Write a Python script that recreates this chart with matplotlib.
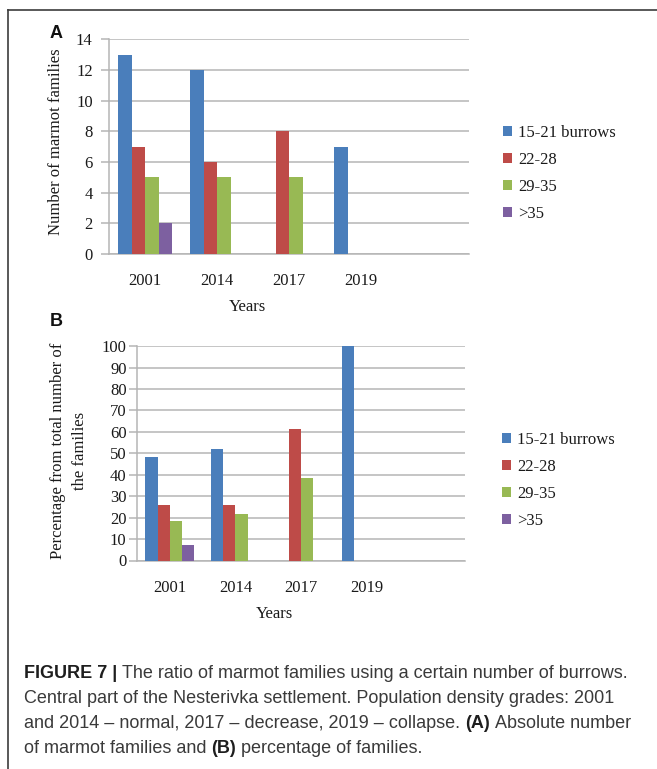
import matplotlib
matplotlib.use("Agg")
import matplotlib.pyplot as plt
from matplotlib.lines import Line2D
import numpy as np

# ---- data -------------------------------------------------------------
years = ["2001", "2014", "2017", "2019", ""]
groups = ["15-21 burrows", "22-28", "29-35", ">35"]

# absolute number of marmot families per burrow group
count_15_21 = [13, 12, 0, 7, 0]
count_22_28 = [7, 6, 8, 0, 0]
count_29_35 = [5, 5, 5, 0, 0]
count_gt35 = [2, 0, 0, 0, 0]

# percentage of families per burrow group
pct_15_21 = [48.1, 52.2, 0, 100, 0]
pct_22_28 = [25.9, 26.1, 61.5, 0, 0]
pct_29_35 = [18.5, 21.7, 38.5, 0, 0]
pct_gt35 = [7.4, 0, 0, 0, 0]

colors = ["#4A7EBB", "#BE4B48", "#98B954", "#7D60A0"]

W, H = 657, 769
fig = plt.figure(figsize=(W / 100, H / 100), dpi=100)
fig.patch.set_facecolor("white")

SERIF = "Liberation Serif"
TXT = "#1a1a1a"
GRID = "#b5b5b5"


def fx(px):
    return px / W


def fy(py):
    return 1 - py / H


def bar_panel(rect, series, yticks, ymax, label_pad):
    ax = fig.add_axes(rect)
    x = np.arange(len(years))
    w = 0.1875
    handles = []
    for i, (vals, c) in enumerate(zip(series, colors)):
        h = ax.bar(x + (i - 1.5) * w, vals, width=w, color=c, zorder=3,
                   linewidth=0)
        handles.append(h)
    ax.set_xlim(-0.5, len(years) - 0.5)
    ax.set_ylim(0, ymax)
    ax.set_yticks(yticks)
    ax.set_xticks(x[:4])
    ax.set_xticklabels(years[:4])
    ax.grid(axis="y", color=GRID, linewidth=1.1, zorder=0)
    for s in ["top", "right"]:
        ax.spines[s].set_visible(False)
    for s in ["left", "bottom"]:
        ax.spines[s].set_color(GRID)
        ax.spines[s].set_linewidth(1.1)
    ax.tick_params(axis="y", length=5.5, width=1.1, color=GRID,
                   pad=label_pad, labelsize=12, labelcolor=TXT)
    ax.tick_params(axis="x", length=0, pad=14, labelsize=12, labelcolor=TXT)
    for lab in ax.get_xticklabels() + ax.get_yticklabels():
        lab.set_fontfamily(SERIF)
    return ax, handles


# ---- panel A ------------------------------------------------------------
axA, hA = bar_panel([fx(109.3), fy(254), fx(469) - fx(109.3), (254 - 39.3) / H],
                    [count_15_21, count_22_28, count_29_35, count_gt35],
                    np.arange(0, 15, 2), 14, 6.5)

# ---- panel B ------------------------------------------------------------
axB, hB = bar_panel([fx(137), fy(560.5), fx(465) - fx(137), (560.5 - 346.2) / H],
                    [pct_15_21, pct_22_28, pct_29_35, pct_gt35],
                    np.arange(0, 101, 10), 100, 2)

leg_kw = dict(loc="center left", frameon=False, borderpad=0, borderaxespad=0,
              handlelength=0.55, handleheight=0.55, handletextpad=0.4,
              labelspacing=0.66, prop={"family": SERIF, "size": 12},
              labelcolor=TXT)
fig.legend(hA, groups, bbox_to_anchor=(fx(502.5), fy(173.6)), **leg_kw)
fig.legend(hB, groups, bbox_to_anchor=(fx(501.5), fy(480.8)), **leg_kw)

# axis titles
fig.text(fx(56.5), fy(142), "Number of marmot families", rotation=90,
         ha="center", va="center", family=SERIF, size=12, color=TXT)
fig.text(fx(69), fy(451), "Percentage from total number of\nthe families",
         rotation=90, ha="center", va="center", multialignment="center",
         family=SERIF, size=12, color=TXT, linespacing=1.42)
fig.text(fx(247), fy(307), "Years", ha="center", va="center",
         family=SERIF, size=12, color=TXT)
fig.text(fx(274), fy(614), "Years", ha="center", va="center",
         family=SERIF, size=12, color=TXT)

# panel letters
fig.text(fx(56), fy(34), "A", ha="center", va="center", family="Liberation Sans",
         weight="bold", size=13, color="#111111")
fig.text(fx(56.5), fy(321.5), "B", ha="center", va="center",
         family="Liberation Sans", weight="bold", size=13, color="#111111")

# frame around the figure block
fig.add_artist(Line2D([fx(7.5), fx(7.5)], [fy(9.5), 0], color="#3c3c3c",
                      linewidth=1.2, transform=fig.transFigure))
fig.add_artist(Line2D([fx(7.5), 1], [fy(9.5), fy(9.5)], color="#3c3c3c",
                      linewidth=1.2, transform=fig.transFigure))

# ---- caption with mixed bold / regular runs ------------------------------
caption_lines = [
    [("FIGURE 7 |", True),
     ("The ratio of marmot families using a certain number of burrows.", False)],
    [("Central part of the Nesterivka settlement. Population density grades: 2001", False)],
    [("and 2014 \u2013 normal, 2017 \u2013 decrease, 2019 \u2013 collapse.", False),
     ("(A)", True), ("Absolute number", False)],
    [("of marmot families and", False), ("(B)", True),
     ("percentage of families.", False)],
]
baselines = [678, 703, 728, 753]
CAP_FONT = "Liberation Sans"
renderer = fig.canvas.get_renderer()


def run_width(text, bold, size):
    t = fig.text(0, 0, text, family=CAP_FONT, size=size,
                 weight="bold" if bold else "normal")
    w = t.get_window_extent(renderer).width
    t.remove()
    return w


def line_width(runs, size):
    sp = run_width("x x", False, size) - run_width("xx", False, size)
    return sum(run_width(t, b, size) for t, b in runs) + sp * (len(runs) - 1)


# fit the first caption line to the text block width
size = 10.0
size = size * 608 / line_width(caption_lines[0], size)

space = run_width("x x", False, size) - run_width("xx", False, size)
for runs, base in zip(caption_lines, baselines):
    x = 24.0
    for text, bold in runs:
        t = fig.text(fx(x), fy(base), text, family=CAP_FONT, size=size,
                     weight="bold" if bold else "normal", ha="left",
                     va="baseline", color="#1e1e1e" if bold else "#3a3a3a")
        x += t.get_window_extent(renderer).width + space

fig.savefig("out.png", dpi=100, facecolor="white")
